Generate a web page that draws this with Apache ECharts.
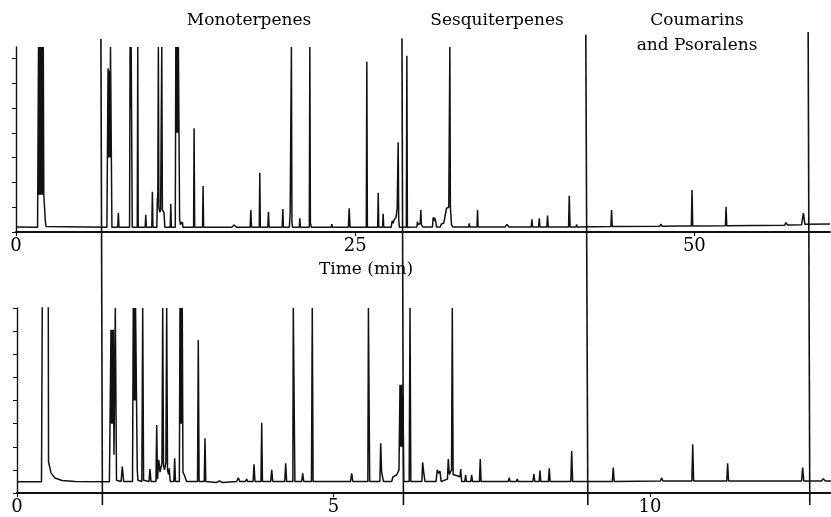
<!DOCTYPE html>
<html>
<head>
<meta charset="utf-8">
<script src="https://cdn.jsdelivr.net/npm/echarts@6/dist/echarts.min.js"></script>
<style>html,body{margin:0;padding:0;background:#fff}#c{width:831px;height:517px}</style>
</head>
<body>
<div id="c"></div>
<script>
// ---------- data (time in min, detector response in tick units) ----------
var topTicksX = [0, 25, 50];
var bottomTicksX = [0, 5, 10];
var topTicksY = [0, 1, 2, 3, 4, 5, 6, 7];
var bottomTicksY = [0, 1, 2, 3, 4, 5, 6, 7, 8];

var sectionLabels = ['Monoterpenes', 'Sesquiterpenes', 'Coumarins', 'and Psoralens'];
var xAxisTitle = 'Time (min)';

// upper chromatogram (0-60 min)
var topTrace = [
[0,0.2],[1.59,0.19],[1.66,7.46],[1.70,1.5],[1.75,7.46],[1.79,1.5],[1.84,7.46],[1.88,1.5],[1.93,7.46],[1.97,1.5],[2.01,7.46],[2.05,1.49],[2.11,1.45],[2.16,0.48],[2.21,0.22],
[6.70,0.19],[6.785,6.6],[6.83,3.0],[6.87,6.5],[6.92,3.0],[6.965,7.46],[7.005,7.46],[7.07,0.19],
[7.50,0.19],[7.544,0.77],[7.59,0.19],
[8.37,0.19],[8.41,7.46],[8.45,5],[8.49,7.46],[8.53,7.46],[8.57,0.19],
[8.94,0.19],[8.975,7.46],[9.01,0.19],
[9.52,0.19],[9.565,0.69],[9.61,0.19],
[10.01,0.19],[10.052,1.62],[10.09,0.19],
[10.38,0.19],[10.42,1.37],[10.45,1.2],[10.494,7.46],[10.53,1.0],[10.6,0.8],[10.66,0.9],[10.745,7.46],[10.79,0.9],[10.914,0.77],[10.97,0.19],
[11.37,0.19],[11.41,1.13],[11.45,0.19],
[11.74,0.19],[11.78,7.46],[11.83,4],[11.87,7.46],[11.92,4],[11.97,7.46],[12.02,7.46],[12.06,0.5],[12.12,0.3],[12.2,0.25],[12.264,0.4],[12.31,0.19],
[13.09,0.19],[13.127,4.18],[13.17,0.19],
[13.75,0.19],[13.79,1.85],[13.83,0.19],
[15.9,0.19],[16.08,0.28],[16.25,0.19],
[17.26,0.19],[17.31,0.89],[17.36,0.19],
[17.93,0.19],[17.97,2.39],[18.01,0.19],
[18.56,0.19],[18.61,0.82],[18.66,0.19],
[19.62,0.19],[19.67,0.93],[19.71,0.19],
[20.15,0.19],[20.21,0.82],[20.25,0.8],[20.30,7.46],[20.34,0.4],[20.38,0.19],
[20.88,0.19],[20.92,0.55],[20.96,0.19],
[21.62,0.19],[21.66,7.46],[21.70,0.35],[21.78,0.19],
[23.23,0.19],[23.28,0.32],[23.33,0.19],
[24.5,0.19],[24.56,0.96],[24.62,0.19],
[25.82,0.19],[25.86,6.87],[25.9,0.19],
[26.66,0.19],[26.70,1.58],[26.74,0.19],
[27.02,0.19],[27.06,0.73],[27.11,0.19],
[27.65,0.19],[27.73,0.45],[27.8,0.35],[27.88,0.5],[27.95,0.45],[28.02,0.6],[28.1,1.0],[28.17,3.62],[28.21,0.5],[28.26,0.19],
[28.77,0.19],[28.81,7.11],[28.85,0.19],
[29.55,0.2],[29.59,0.42],[29.65,0.3],[29.8,0.35],[29.84,0.89],[29.88,0.3],[29.96,0.3],[30.0,0.2],
[30.70,0.2],[30.75,0.59],[30.8,0.45],[30.86,0.58],[30.95,0.4],[31.0,0.2],
[31.28,0.2],[31.35,0.32],[31.45,0.28],[31.52,0.35],[31.58,0.5],[31.73,0.96],[31.8,0.9],[31.9,1.0],[31.98,7.46],[32.02,1.0],[32.1,0.3],[32.2,0.2],
[33.36,0.2],[33.41,0.35],[33.46,0.2],
[33.98,0.2],[34.02,0.89],[34.06,0.2],
[36.05,0.2],[36.19,0.31],[36.33,0.2],
[36.85,0.2],[36.9,0.24],[36.95,0.2],
[37.98,0.2],[38.03,0.51],[38.08,0.2],
[38.52,0.2],[38.57,0.55],[38.62,0.2],
[39.13,0.2],[39.18,0.66],[39.23,0.2],
[40.73,0.2],[40.78,1.46],[40.84,0.2],
[41.28,0.2],[41.32,0.3],[41.37,0.2],
[43.85,0.22],[43.9,0.89],[43.95,0.22],
[47.45,0.23],[47.54,0.32],[47.62,0.23],
[48.95,0.24],[49.02,0.3],[49.1,0.24],
[49.78,0.24],[49.83,1.69],[49.88,0.24],
[52.29,0.25],[52.34,1.02],[52.39,0.25],
[54.55,0.26],[54.67,0.33],[54.8,0.26],
[56.65,0.27],[56.76,0.38],[56.87,0.28],
[57.9,0.29],[58.04,0.76],[58.15,0.31],
[60,0.32]
];

// lower chromatogram (0-12.86 min)
var bottomTrace = [
[0,0.49],[0.387,0.49],[0.40,8.6],[0.494,8.6],[0.498,1.35],[0.537,0.87],[0.60,0.65],[0.711,0.54],[0.916,0.5],
[1.46,0.49],[1.485,7.06],[1.494,3],[1.504,7.06],[1.513,3],[1.522,7.06],[1.532,1.65],[1.553,8],[1.572,0.55],
[1.645,0.5],[1.663,1.14],[1.685,0.5],
[1.825,0.5],[1.837,8],[1.846,4],[1.855,8],[1.864,4],[1.873,8],[1.891,8],[1.90,1.0],[1.91,0.55],
[1.972,0.5],[1.986,8],[2.0,0.55],
[2.085,0.5],[2.101,1.04],[2.117,0.5],
[2.195,0.5],[2.207,2.94],[2.22,0.6],[2.239,1.43],[2.26,0.9],[2.29,1.3],[2.302,8],[2.315,1.2],[2.33,1.0],[2.352,1.3],[2.365,8],[2.378,1.0],[2.395,0.8],[2.406,1.07],[2.42,0.5],
[2.478,0.5],[2.491,1.5],[2.504,0.5],
[2.565,0.5],[2.575,8],[2.584,3],[2.593,8],[2.602,3],[2.611,8],[2.622,0.9],[2.64,0.8],[2.665,0.85],[2.68,0.5],
[2.852,0.5],[2.864,6.62],[2.877,0.5],
[2.958,0.5],[2.97,2.37],[2.983,0.5],
[3.15,0.45],[3.2,0.52],[3.25,0.45],
[3.47,0.5],[3.496,0.66],[3.52,0.5],
[3.61,0.5],[3.629,0.6],[3.645,0.5],
[3.73,0.5],[3.744,1.24],[3.76,0.5],
[3.854,0.5],[3.866,3.04],[3.878,0.5],
[4.008,0.5],[4.024,1.0],[4.04,0.5],
[4.23,0.5],[4.245,1.29],[4.26,0.5],
[4.358,0.5],[4.365,8],[4.378,8],[4.39,0.5],
[4.498,0.5],[4.513,0.85],[4.53,0.5],
[4.652,0.5],[4.665,8],[4.678,0.5],
[5.27,0.5],[5.288,0.85],[5.305,0.5],
[5.543,0.5],[5.552,8],[5.562,8],[5.572,0.5],
[5.733,0.5],[5.746,2.15],[5.76,0.9],[5.775,0.9],[5.79,0.5],
[5.92,0.5],[5.94,0.7],[5.97,0.65],[5.998,0.78],[6.015,0.75],[6.035,1.0],[6.051,4.68],[6.058,2],[6.066,4.68],[6.074,2],[6.082,4.68],[6.09,2],[6.098,4.3],[6.11,0.5],
[6.196,0.5],[6.209,8],[6.222,0.5],
[6.396,0.5],[6.409,1.33],[6.425,0.9],[6.445,0.5],
[6.62,0.5],[6.64,1.0],[6.66,0.85],[6.682,0.95],[6.70,0.5],
[6.80,0.6],[6.814,1.47],[6.83,0.8],[6.865,1.0],[6.877,8],[6.89,0.8],
[6.998,0.7],[7.01,1.04],[7.025,0.5],
[7.075,0.5],[7.088,0.78],[7.10,0.5],
[7.17,0.5],[7.183,0.78],[7.196,0.5],
[7.306,0.5],[7.319,1.47],[7.332,0.5],
[7.76,0.5],[7.777,0.66],[7.79,0.5],
[7.89,0.5],[7.904,0.6],[7.918,0.5],
[8.15,0.5],[8.167,0.82],[8.18,0.5],
[8.25,0.5],[8.262,0.97],[8.275,0.5],
[8.395,0.5],[8.409,1.07],[8.423,0.5],
[8.75,0.5],[8.763,1.82],[8.778,0.5],
[9.405,0.5],[9.42,1.1],[9.435,0.5],
[10.165,0.52],[10.185,0.65],[10.205,0.52],
[10.662,0.52],[10.675,2.11],[10.69,0.52],
[11.213,0.52],[11.227,1.29],[11.242,0.52],
[12.395,0.52],[12.412,1.1],[12.43,0.52],
[12.71,0.52],[12.738,0.62],[12.77,0.52],
[12.86,0.52]
];

// section dividers (upper-axis minutes at top end / bottom end, fraction of full height)
var dividerTopTime = [6.26, 28.45, 42.0, 58.39];
var dividerBottomTime = [6.37, 28.56, 42.15, 58.51];
var dividerTopLevel = [0.985, 0.987, 0.994, 1.0];

// ---------- chart ----------
var FONT = 'DejaVu Serif';
var chart = echarts.init(document.getElementById('c'), null, {renderer: 'canvas'});

function xAxisCfg(gridIndex, max, interval, ticks) {
  return {
    type: 'value', gridIndex: gridIndex, min: 0, max: max, interval: interval,
    axisLine: {show: true, onZero: false, lineStyle: {color: '#111', width: 1.8}},
    axisTick: {show: true, length: 4, customValues: ticks, lineStyle: {color: '#111', width: 1.2}},
    axisLabel: {show: true, customValues: ticks, color: '#000', fontFamily: FONT, fontSize: 18, margin: 5},
    splitLine: {show: false}
  };
}
function yAxisCfg(gridIndex, max, ticks) {
  return {
    type: 'value', gridIndex: gridIndex, min: 0, max: max, interval: 1,
    axisLine: {show: true, lineStyle: {color: '#111', width: 1.4}},
    axisTick: {show: true, length: 4, customValues: ticks, lineStyle: {color: '#111', width: 1}},
    axisLabel: {show: false},
    splitLine: {show: false}
  };
}

var dividerSeries = dividerTopTime.map(function (t, i) {
  return {
    type: 'line', xAxisIndex: 2, yAxisIndex: 2, showSymbol: false, silent: true,
    lineStyle: {color: '#111', width: 1.6},
    data: [[t, dividerTopLevel[i]], [dividerBottomTime[i], 0]]
  };
});

chart.setOption({
  animation: false,
  backgroundColor: '#fff',
  grid: [
    {left: 16, right: 1, top: 47, bottom: 285},
    {left: 17, right: 0, top: 308, bottom: 24},
    {left: 16, right: 1, top: 32, bottom: 12}
  ],
  xAxis: [
    xAxisCfg(0, 60, 25, topTicksX),
    xAxisCfg(1, 12.86, 5, bottomTicksX),
    {type: 'value', gridIndex: 2, min: 0, max: 60, show: false}
  ],
  yAxis: [
    yAxisCfg(0, 7.46, topTicksY),
    yAxisCfg(1, 8, bottomTicksY),
    {type: 'value', gridIndex: 2, min: 0, max: 1, show: false}
  ],
  series: [
    {type: 'line', xAxisIndex: 0, yAxisIndex: 0, data: topTrace, showSymbol: false, clip: true,
     lineStyle: {color: '#111', width: 1.5}},
    {type: 'line', xAxisIndex: 1, yAxisIndex: 1, data: bottomTrace, showSymbol: false, clip: true,
     lineStyle: {color: '#111', width: 1.5}}
  ].concat(dividerSeries),
  graphic: [
    {type: 'text', x: 249, y: 21, silent: true, style: {text: sectionLabels[0], fill: '#000', font: '17px "' + FONT + '"', textAlign: 'center', textVerticalAlign: 'middle'}},
    {type: 'text', x: 497, y: 21, silent: true, style: {text: sectionLabels[1], fill: '#000', font: '17px "' + FONT + '"', textAlign: 'center', textVerticalAlign: 'middle'}},
    {type: 'text', x: 697, y: 21, silent: true, style: {text: sectionLabels[2], fill: '#000', font: '17px "' + FONT + '"', textAlign: 'center', textVerticalAlign: 'middle'}},
    {type: 'text', x: 697, y: 46, silent: true, style: {text: sectionLabels[3], fill: '#000', font: '17px "' + FONT + '"', textAlign: 'center', textVerticalAlign: 'middle'}},
    {type: 'text', x: 366, y: 270, silent: true, style: {text: xAxisTitle, fill: '#000', font: '17px "' + FONT + '"', textAlign: 'center', textVerticalAlign: 'middle'}}
  ]
});
</script>
</body>
</html>
